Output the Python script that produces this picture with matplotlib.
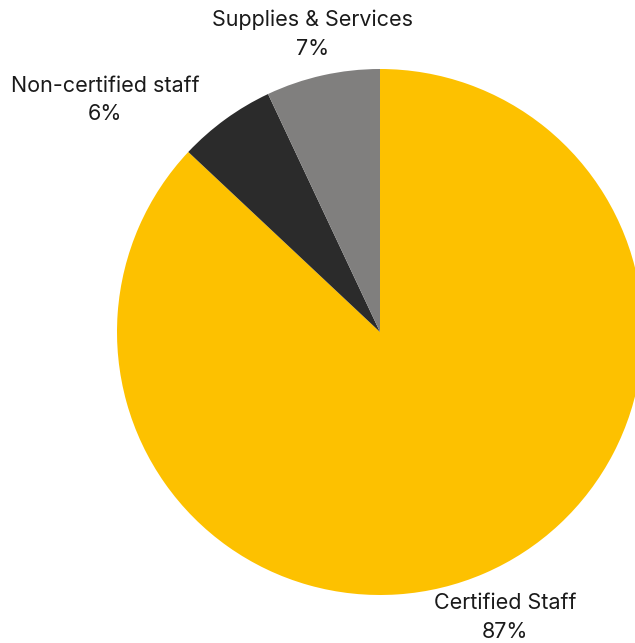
import matplotlib.pyplot as plt

categories = ['Certified Staff', 'Non-certified staff', 'Supplies & Services']
shares = [87, 6, 7]
colors = ['#FDC100', '#2B2B2B', '#807F7E']

# label positions (data units, pie radius = 1)
label_pos = [(0.475, -1.087), (-1.046, 0.882), (-0.255, 1.133)]


def plot():
    plt.rcParams['font.family'] = ['Inter', 'DejaVu Sans']
    fig = plt.figure(figsize=(6.35, 6.43), dpi=100)
    ax = fig.add_axes([0, 0, 1, 1])

    wedges, texts = ax.pie(shares, colors=colors, startangle=90, counterclock=False,
                           radius=1.0, center=(0, 0),
                           labels=[f'{c}\n{s}%' for c, s in zip(categories, shares)],
                           wedgeprops={'linewidth': 0},
                           textprops={'fontsize': 15.5, 'color': '#1a1a1a'})
    for t, (x, y) in zip(texts, label_pos):
        t.set_position((x, y))
        t.set_ha('center')
        t.set_va('center')
        t.set_multialignment('center')
        t.set_linespacing(1.55)

    # 263 px per unit, pie centre at (380, 332) px
    ax.set_xlim(-380 / 263, (635 - 380) / 263)
    ax.set_ylim(-(643 - 332) / 263, 332 / 263)
    ax.set_aspect('auto')
    ax.axis('off')

    fig.savefig('out.png', dpi=100)


if __name__ == '__main__':
    plot()
